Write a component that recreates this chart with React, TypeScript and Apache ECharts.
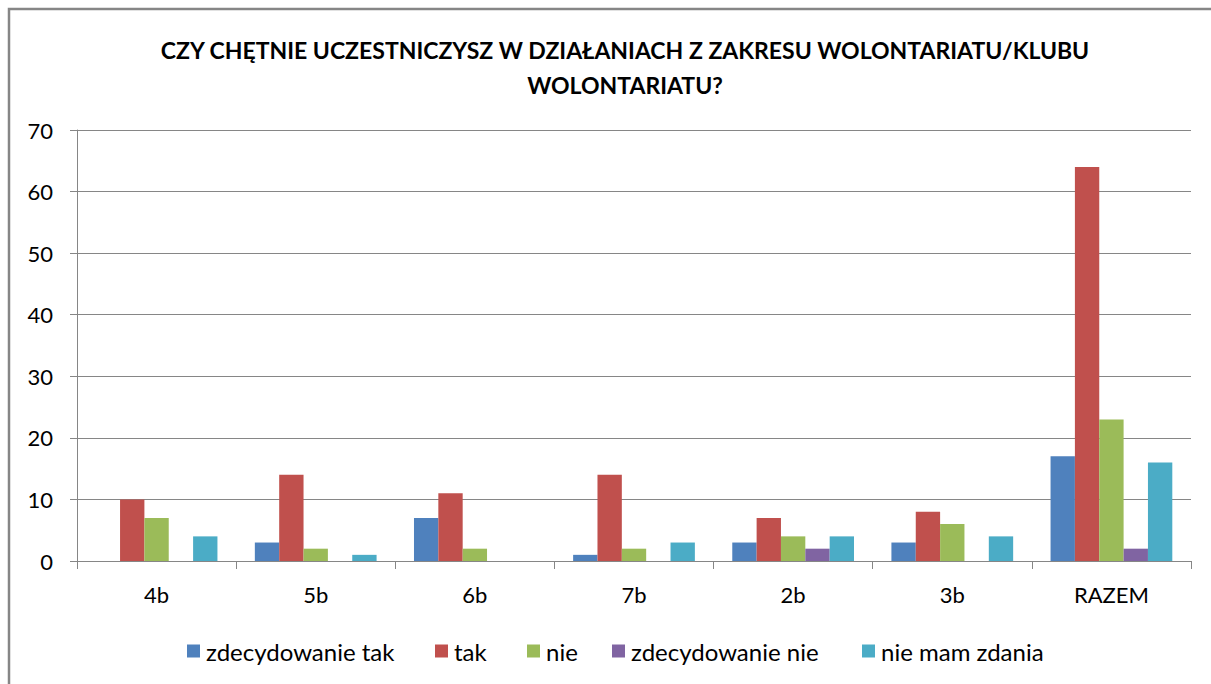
import React, { useEffect, useRef } from "react";
import * as echarts from "echarts";

const titleLines = [
  "CZY CHĘTNIE UCZESTNICZYSZ W DZIAŁANIACH Z ZAKRESU WOLONTARIATU/KLUBU",
  "WOLONTARIATU?",
];
const categories = ["4b", "5b", "6b", "7b", "2b", "3b", "RAZEM"];
const seriesNames = ["zdecydowanie tak", "tak", "nie", "zdecydowanie nie", "nie mam zdania"];
const zdecydowanieTak = [0, 3, 7, 1, 3, 3, 17];
const tak = [10, 14, 11, 14, 7, 8, 64];
const nie = [7, 2, 2, 2, 4, 6, 23];
const zdecydowanieNie = [0, 0, 0, 0, 2, 0, 2];
const nieMamZdania = [4, 1, 0, 3, 4, 4, 16];
const seriesValues = [zdecydowanieTak, tak, nie, zdecydowanieNie, nieMamZdania];
const colors = ["#4F81BD", "#C0504D", "#9BBB59", "#8064A2", "#4BACC6"];
const legendLeft = [187, 435, 527, 612, 862];

const FONT = "Lato, 'Open Sans', sans-serif";

export default function App() {
  const ref = useRef<HTMLDivElement>(null);
  useEffect(() => {
    if (!ref.current) return;
    const chart = echarts.init(ref.current, undefined, { renderer: "svg" });
    chart.setOption({
      animation: false,
      backgroundColor: "#ffffff",
      color: colors,
      title: {
        text: titleLines.join("\n"),
        left: 620,
        textAlign: "center",
        top: 27,
        textStyle: {
          fontFamily: FONT,
          fontWeight: "bold",
          fontSize: 23,
          lineHeight: 35,
          color: "#000",
        },
      },
      graphic: [
        {
          type: "rect",
          shape: { x: 9, y: 9, width: 1220, height: 700 },
          style: { fill: "none", stroke: "#868686", lineWidth: 2.5 },
          silent: true,
        },
      ],
      legend: seriesNames.map((name, i) => ({
        top: 639,
        left: legendLeft[i],
        itemWidth: 13,
        itemHeight: 13,
        icon: "rect",
        padding: 0,
        textStyle: { fontFamily: FONT, fontSize: 24, color: "#000", padding: [0, 0, 0, 1] },
        data: [name],
      })),
      grid: { left: 77, right: 20, top: 130, bottom: 123, containLabel: false },
      xAxis: {
        type: "category",
        data: categories,
        axisLine: { lineStyle: { color: "#868686", width: 1 } },
        axisTick: { show: true, length: 8, lineStyle: { color: "#868686" } },
        axisLabel: { fontFamily: FONT, fontSize: 22, color: "#000", margin: 22 },
      },
      yAxis: {
        type: "value",
        min: 0,
        max: 70,
        interval: 10,
        axisLine: { show: true, lineStyle: { color: "#868686", width: 1 } },
        axisTick: { show: true, length: 7, lineStyle: { color: "#868686" } },
        splitLine: { lineStyle: { color: "#868686", width: 1 } },
        axisLabel: { fontFamily: FONT, fontSize: 22, color: "#000", margin: 24 },
      },
      series: seriesNames.map((name, i) => ({
        name,
        type: "bar",
        data: seriesValues[i],
        barGap: "0%",
        barCategoryGap: "23.5%",
        itemStyle: { color: colors[i] },
      })),
    });
    return () => chart.dispose();
  }, []);
  return (
    <div
      ref={ref}
      style={{ position: "absolute", left: 0, top: 0, width: 1211, height: 684 }}
    />
  );
}
